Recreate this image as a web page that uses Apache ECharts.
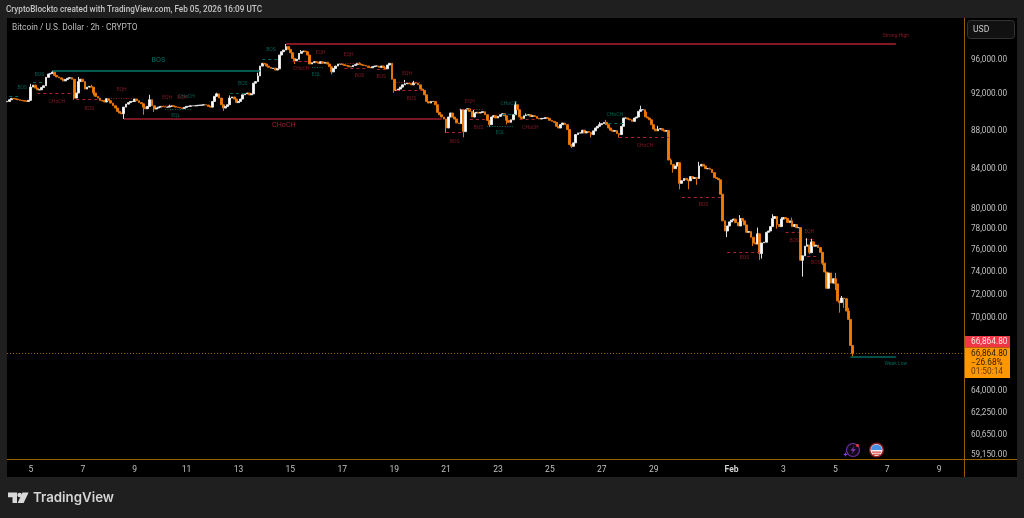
<!DOCTYPE html>
<html><head><meta charset="utf-8">
<style>html,body{margin:0;padding:0;background:#1f1f1f}#c{width:1024px;height:518px}</style>
<script src="https://cdn.jsdelivr.net/npm/echarts@6/dist/echarts.min.js"></script>
</head><body><div id="c"></div>
<script>
const closes = [
91030,91220,91370,91330,91300,91220,91150,91110,91080,91030,91150,92640,92870,92530,92340,92340,92600,92790,93760,94140,
94210,94360,93980,93800,93690,93540,93350,93500,93650,93720,93540,91410,91970,93270,93540,93270,92420,92640,92720,92640,
91970,91600,91410,91150,91080,90970,91330,91110,90850,90550,90300,89930,89750,89670,90400,90730,90900,91030,91030,91300,
91110,90900,90770,90400,90220,90480,91220,90550,90190,90300,90400,90480,90440,90400,90400,90480,90550,90480,90400,90370,
90300,90260,90370,90480,90480,90550,90550,90550,90600,90600,90630,90660,90630,90480,90400,91030,91600,91880,91410,90660,
90300,90480,90660,91410,91530,91300,90900,91030,91300,91770,91880,91970,91770,91880,93090,93270,93910,95060,95380,95300,
95060,94910,94780,94820,94600,94740,96350,96740,96940,97350,97020,96620,95960,95680,95850,96550,96740,96820,96740,96350,
95300,95450,95570,95500,95380,95570,95380,95500,95300,94980,94380,94780,95060,95300,95300,95220,95140,95100,94980,94980,
95140,95220,95380,95260,95180,95140,95060,94910,94860,94980,95060,95060,94910,95060,94860,94740,95180,95380,93540,92270,
92270,92420,92640,92900,93020,93090,93020,92900,93170,93090,92900,92420,92270,91770,91030,90850,91030,91030,90660,89820,
89560,89310,89090,88120,89310,89750,89310,89090,88660,88590,90110,87730,90110,90220,89930,89310,89750,89820,89750,89820,
89890,89560,88950,88480,89310,89450,89200,89380,89560,89670,89450,88950,88730,89010,89560,90660,90110,89310,89160,89450,
89530,89560,89380,89450,89380,89160,89090,89160,89160,89240,89160,88950,88840,88730,88300,88120,88480,88660,88480,87950,
86350,86170,86530,87410,87590,87590,87880,87590,87730,87660,87410,87810,88120,88300,88480,88590,88730,88480,88120,87880,
87770,87840,87520,87410,88300,89200,89200,89090,89010,88840,89200,89310,89930,90110,90110,89310,89200,89010,88480,88000,
87810,88000,88040,87880,87770,87840,84730,84280,83840,84110,84460,82350,82610,82840,82700,82610,83030,82840,82930,82840,
84110,84280,84110,83840,83840,83770,83430,82930,82840,82700,81260,78650,77680,78160,78550,78720,78820,78490,78160,78880,
78650,78260,77560,77620,77090,76550,76450,77410,75560,76550,76620,77560,77680,78100,78880,79070,78300,78100,78820,78970,
78880,78490,78650,78100,78300,78000,78000,74950,75350,76250,76350,75640,76650,76250,76350,76120,75680,74680,73880,72420,
73790,72880,73270,72810,71310,71160,71560,71500,70430,69710,67520,66864.8
];
const wickHighs = {11:93020,21:94520,33:93800,39:92900,45:91200,66:91770,75:90660,97:92000,103:91700,116:94300,129:97660,136:96940,139:96600,
 163:95500,184:93460,188:93350,210:90220,216:90100,235:91030,240:89700,274:88750,277:89000,293:90550,296:89900,301:88350,
 307:84900,320:84540,325:83950,339:79200,347:78000,354:79290,358:79000,363:78970,370:77000,372:76940,383:73800,386:71740,389:70700};
const wickLows = {31:91220,40:91700,54:89090,63:89560,68:89870,100:89980,103:90900,133:95300,150:94100,179:92000,203:87590,211:87120,
 223:88210,231:88500,261:85990,270:87100,283:87100,308:83430,311:81740,315:81750,319:82200,333:77100,345:76260,348:74980,349:75100,
 356:77900,368:73460,371:75500,377:74500,380:72430,383:72260,385:70290,387:70700,391:66600};
const futureBars = 51;
const axisTickDays = {'01-05':'5','01-07':'7','01-09':'9','01-11':'11','01-13':'13','01-15':'15','01-17':'17','01-19':'19','01-21':'21',
 '01-23':'23','01-25':'25','01-27':'27','01-29':'29','02-01':'Feb','02-03':'3','02-05':'5','02-07':'7','02-09':'9'};
const priceTicks = [96000,92000,88000,84000,80000,78000,76000,74000,72000,70000,64000,62250,60650,59150];
const lastPrice = 66864.8;
const strongLines = [
 {name:'Strong High',from:129,to:411,price:97660,color:'#b02232'},
 {name:'BOS',from:21,to:117,price:94520,color:'#00796b'},
 {name:'CHoCH',from:54,to:201,price:89090,color:'#9c1f2e'},
 {name:'Weak Low',from:390,to:411,price:66570,color:'#00695c'}
];
const greenDashed = [[1,6,91630],[12,17,93180],[103,111,91970],[118,126,95880],[229,235,89640],[278,285,88630]];
const redDashed = [[14,31,91940],[32,42,91220],[132,139,95570],[156,166,94780],[171,176,94670],[180,192,92270],[203,211,87690],[214,222,89090],
 [237,245,89090],[283,306,87120],[312,331,80950],[333,348,75680],[360,366,77560],[370,375,75270]];
const redDotted = [[48,58,91410],[72,76,90660],[154,163,95380],[180,191,93180],[209,220,90190],[369,373,76940]];
const greenDotted = [[73,85,90190],[141,146,94910],[222,234,88330]];
const greenLabels = [['BOS',7,92530],['BOS',15,94040],['CHoCH',83,91520],['EQL',78,89400],['BOS',109,93010],['BOS',122,96940],['EQL',143,94000],
 ['CHoCH',232,90740],['EQL',228,87600],['CHoCH',281,89550],['Weak Low',411,66000]];
const redLabels = [['CHoCH',23,91000],['BOS',38,90200],['EQH',53,92340],['EQH',74,91430],['EQH',81,91480],['CHoCH',136,94720],['EQH',145,96620],
 ['EQH',158,96440],['BOS',163,93920],['BOS',173,93770],['EQH',185,94130],['BOS',187,91300],['EQH',214,91030],['BOS',207,86600],['BOS',218,88180],
 ['CHoCH',242,88180],['CHoCH',295,86240],['BOS',322,80200],['BOS',341,75190],['BOS',364,76760],['EQH',371,77600],['BOS',374,74720],['Strong High',411,98700]];
const bigLabels = [['BOS',70,95770,'#00897b'],['CHoCH',128,88400,'#c2243a']];

const ORANGE='#f57c00', GREEN='#00695c', RED='#8f1c2a', AXIS='#9a5f05';
const total = closes.length + futureBars;
const categories = [];
const startMs = Date.UTC(2026,0,4,2);
for (let i=0;i<total;i++){ categories.push(new Date(startMs+i*7200000).toISOString().slice(5,16)); }
const labelFor = c => c.endsWith('T00:00') ? axisTickDays[c.slice(0,5)] : undefined;
const candles = closes.map((c,i)=>{
  const o = i ? closes[i-1] : 91000;
  const hi = Math.max(o,c,wickHighs[i]||0);
  const lo = Math.min(o,c,wickLows[i]||Infinity);
  return [o,c,lo,hi];
});
const seg = (arr,color,type,width)=>arr.map(a=>[
  {coord:[categories[a[0]],a[2]],lineStyle:{color,type,width}},
  {coord:[categories[a[1]],a[2]]}
]);
const lineData = [
  [{coord:[categories[0],lastPrice],lineStyle:{color:'#a8660a',type:[1,2],width:1}},{coord:[categories[total-1],lastPrice]}],
  ...strongLines.map(l=>[{coord:[categories[l.from],l.price],lineStyle:{color:l.color,type:'solid',width:1.5}},{coord:[categories[l.to],l.price]}]),
  ...seg(greenDashed,GREEN,[3,3],1),
  ...seg(redDashed,'#b02232',[3,3],1),
  ...seg(redDotted,RED,[1,1.5],1),
  ...seg(greenDotted,GREEN,[1,1.5],1)
];
const labelPts = (arr,color,size)=>arr.map(a=>({
  value:[categories[a[1]],a[2]],
  label:{show:true,position:'inside',formatter:a[0],color:a[3]||color,fontSize:size,fontFamily:'Roboto'}
}));
const F='Roboto, sans-serif';
const T=(x,y,text,o)=>({type:'text',x,y,z:30,style:Object.assign({text,fontFamily:F,fontSize:8.3,fill:'#c8c8c8',textVerticalAlign:'middle'},o||{})});
const R=(x,y,w,h,fill,o)=>({type:'rect',z:(o&&o.z)||20,shape:Object.assign({x,y,width:w,height:h},(o&&o.r)?{r:o.r}:{}),style:Object.assign({fill},(o&&o.stroke)?{stroke:o.stroke,lineWidth:1}:{})});
const money = v => Number(v).toLocaleString('en-US',{minimumFractionDigits:2,maximumFractionDigits:2});
const option = {
  backgroundColor:'#1f1f1f', animation:false,
  grid:{left:6,right:60,top:19,height:440.5,show:false},
  xAxis:{type:'category',data:categories,boundaryGap:true,
    axisLine:{show:true,onZero:false,lineStyle:{color:AXIS,width:1}},axisTick:{show:false},splitLine:{show:false},
    axisLabel:{interval:(i,v)=>labelFor(v)!==undefined,formatter:v=>{const s=labelFor(v)||'';return s==='Feb'?'{b|Feb}':s;},
      color:'#c0c0c0',fontSize:8.5,fontFamily:F,margin:6,hideOverlap:false,rich:{b:{fontWeight:'bold',color:'#d0d0d0',fontSize:8.5,fontFamily:F}}}},
  yAxis:{type:'log',logBase:10,position:'right',min:58725,max:100696,scale:true,
    axisLine:{show:true,lineStyle:{color:AXIS,width:1}},axisTick:{show:false},splitLine:{show:false},minorSplitLine:{show:false},
    axisLabel:{customValues:priceTicks,formatter:v=>'{a|'+money(v)+'}',
      color:'#c0c0c0',fontSize:8.2,fontFamily:F,margin:7,showMinLabel:true,showMaxLabel:true,
      rich:{a:{color:'#c0c0c0',fontSize:8.2,fontFamily:F,padding:[3,0,0,0]}}}},
  series:[
    {type:'candlestick',data:candles,barWidth:2.3,large:false,silent:true,
     itemStyle:{color:'#ffffff',color0:ORANGE,borderColor:'#e2e2e2',borderColor0:'#e07206',borderWidth:1},
     markLine:{silent:true,symbol:'none',animation:false,label:{show:false},data:lineData}},
    {type:'scatter',symbolSize:0,silent:true,data:labelPts(greenLabels,'#00796b',5),z:5},
    {type:'scatter',symbolSize:0,silent:true,data:labelPts(redLabels,'#9c1f2e',5),z:5},
    {type:'scatter',symbolSize:0,silent:true,data:labelPts(bigLabels,'#fff',7.2),z:5}
  ],
  graphic:[
    {type:'rect',z:-5,silent:true,shape:{x:7,y:18,width:1010,height:459},style:{fill:'#000'}},
    R(5,458,2,3,'#1f1f1f'),
    T(6,10,'CryptoBlockto created with TradingView.com, Feb 05, 2026 16:09 UTC',{fontWeight:500,fill:'#c4c4c4',fontSize:8.2}),
    T(12,28,'Bitcoin / U.S. Dollar · 2h · CRYPTO',{fill:'#bdbdbd',fontSize:8.4}),
    {type:'line',z:10,shape:{x1:964.5,y1:459.5,x2:1017,y2:459.5},style:{stroke:AXIS,lineWidth:1}},
    {type:'line',z:10,shape:{x1:964.5,y1:18,x2:964.5,y2:477},style:{stroke:AXIS,lineWidth:1}},
    R(967.5,20.5,47,18,'#111',{stroke:'#333',r:3}),
    T(973,30,'USD',{fill:'#c8c8c8',fontSize:8.6}),
    R(965,336,45,11.5,'#f23645'),
    T(971,341.8,'66,864.80',{fill:'#ffe6e8'}),
    R(965,347.5,45,30.5,'#ff9800'),
    T(971,353.5,'66,864.80',{fill:'#2b1b00'}),
    T(971,362.5,'−26.68%',{fill:'#2b1b00'}),
    T(971,372,'01:50:14',{fill:'#5c3a00'}),
    {type:'circle',z:25,shape:{cx:853,cy:450,r:6.5},style:{fill:'#120a18',stroke:'#6f2f9c',lineWidth:1.2}},
    {type:'polygon',z:26,shape:{points:[[854.5,445.5],[850.5,450.8],[853,450.8],[851.5,454.5],[855.8,449],[853.2,449]]},style:{fill:'#7d35ad'}},
    {type:'circle',z:26,shape:{cx:857.5,cy:445.5,r:1.4},style:{fill:'#f23645'}},
    {type:'polygon',z:26,shape:{points:[[845.5,452],[846.2,453.7],[847.8,454.5],[846.2,455.2],[845.5,457],[844.8,455.2],[843,454.5],[844.8,453.7]]},style:{fill:'#7a3ff0'}},
    {type:'circle',z:25,shape:{cx:876.5,cy:450,r:6.8},style:{fill:'#f4f4f4',stroke:'#8f1c24',lineWidth:1.5}},
    {type:'sector',z:26,shape:{cx:876.5,cy:450,r:5.5,startAngle:Math.PI,endAngle:Math.PI*2},style:{fill:'#4a90e2'}},
    {type:'rect',z:26,shape:{x:872,y:451.5,width:9,height:1.3},style:{fill:'#e0534f'}},
    {type:'rect',z:26,shape:{x:873,y:453.7,width:7,height:1.2},style:{fill:'#e0534f'}},
    {type:'polygon',z:30,shape:{points:[[8,492.6],[17,492.6],[17,503],[12.5,503],[12.5,497.2],[8,497.2]]},style:{fill:'#d9d9d9'}},
    {type:'circle',z:30,shape:{cx:19.6,cy:495,r:2.3},style:{fill:'#d9d9d9'}},
    {type:'polygon',z:30,shape:{points:[[22.5,492.6],[28.6,492.6],[23.6,503],[17.6,503]]},style:{fill:'#d9d9d9'}},
    T(33,497.5,'TradingView',{fontFamily:'Inter, Roboto, sans-serif',fontWeight:600,fontSize:13.3,fill:'#d4d4d4'})
  ]
};
echarts.init(document.getElementById('c'),null,{renderer:'canvas'}).setOption(option);
</script></body></html>
